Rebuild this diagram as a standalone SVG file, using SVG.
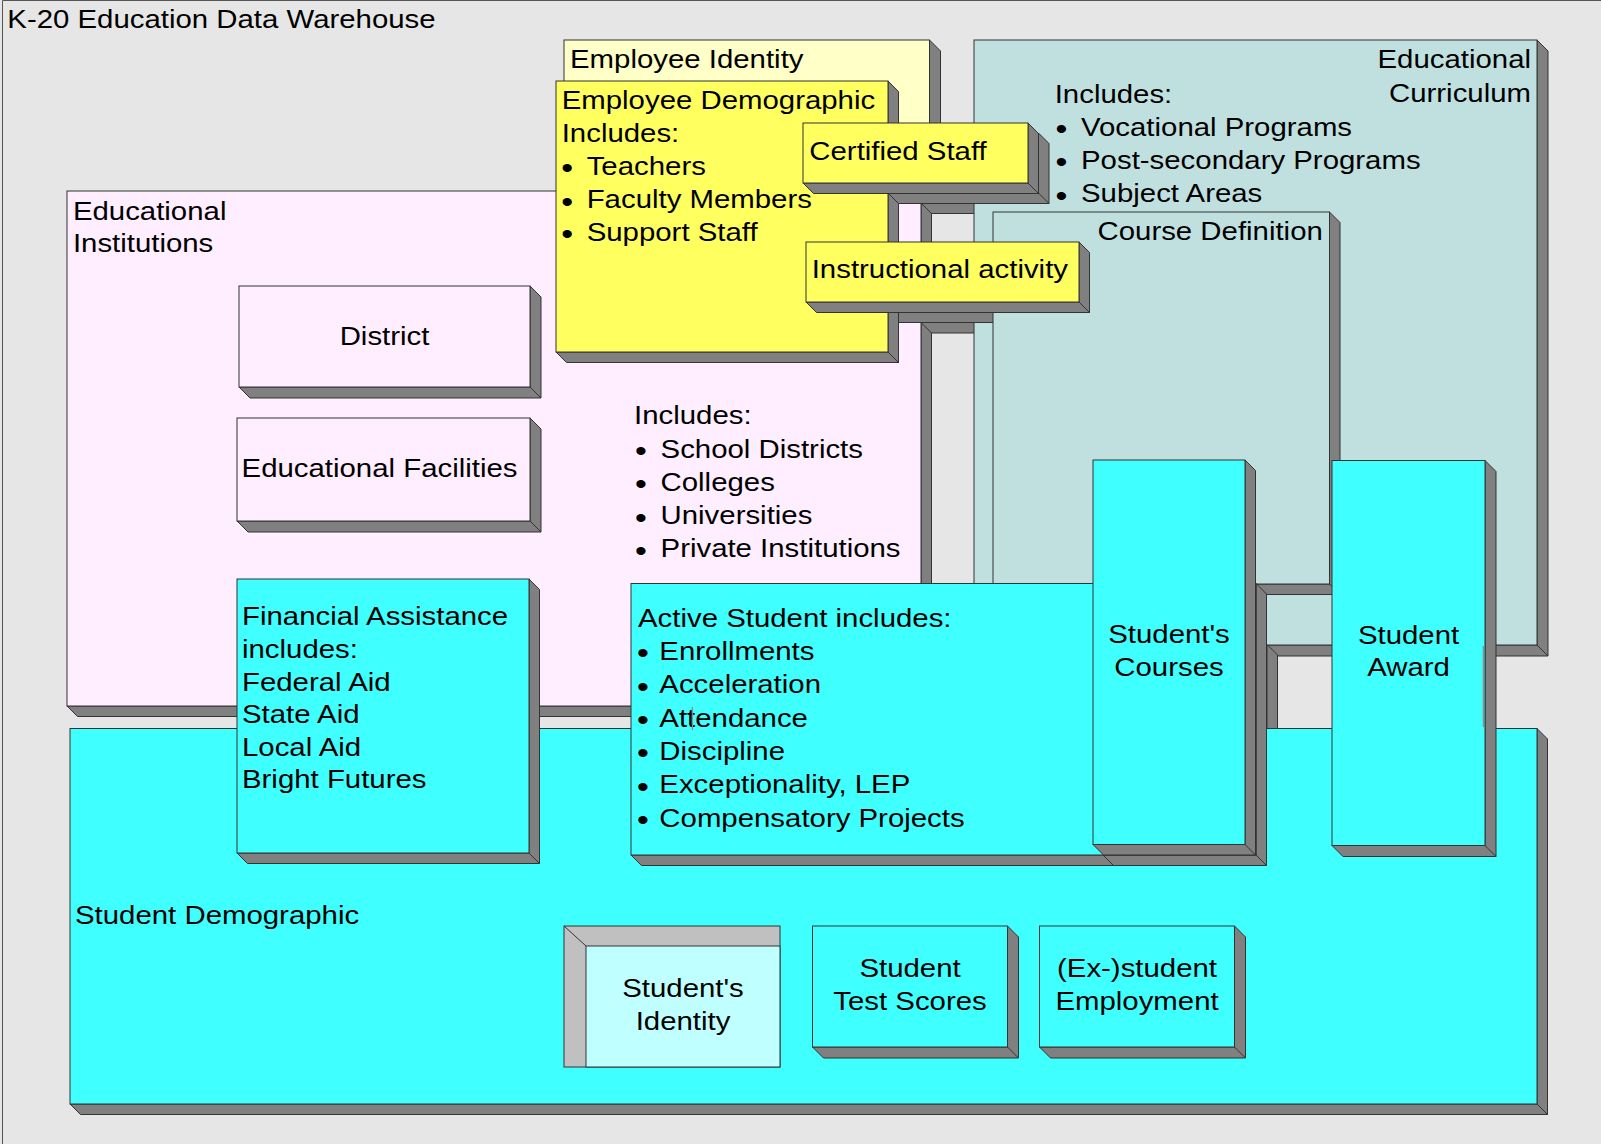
<svg xmlns="http://www.w3.org/2000/svg" width="1601" height="1144" viewBox="0 0 1601 1144">
<style>
.t{font-family:"Liberation Sans",Arial,Helvetica,sans-serif;font-size:26px;fill:#000}
.b{font-size:30px}
.m{text-anchor:middle}
.e{text-anchor:end}
.sh{fill:#808080;stroke:#333;stroke-width:1;stroke-linejoin:round}
.ln{stroke:#333;stroke-width:1;fill:none}
.f{stroke:#333;stroke-width:1}
.pink{fill:#FFEEFF}
.cyan{fill:#40FFFF}
.yel{fill:#FFFF60}
.pyel{fill:#FFFFC8}
.blue{fill:#C0E0E0}
.art{stroke:#8a8a8a;stroke-width:1.2;fill:none}
</style>
<rect x="0" y="0" width="1601" height="1144" fill="#E6E6E6"/>
<path d="M2.5,1144 V0.5 H1601" fill="none" stroke="#555" stroke-width="1"/>
<text class="t" transform="translate(7.3,28.3) scale(1.13,1)">K-20 Education Data Warehouse</text>

<g id="employee-identity">
<polygon class="sh" points="929.5,40 940.5,51 940.5,204 575,204 564,193 929.5,193"/>
<rect class="f pyel" x="564" y="40" width="365.5" height="153"/>
<text class="t" transform="translate(570,68.3) scale(1.13,1)">Employee Identity</text>
</g>

<g id="educational-institutions">
<polygon class="sh" points="921,191 931.5,201.5 931.5,716.5 77.5,716.5 67,706 921,706"/>
<line class="ln" x1="921" y1="706" x2="931.5" y2="716.5"/>
<rect class="f pink" x="67" y="191" width="854" height="515"/>
<text class="t" transform="translate(72.9,0) scale(1.13,1)"><tspan x="0" y="220">Educational</tspan><tspan x="0" y="252.3">Institutions</tspan></text>
<text class="t" transform="translate(634,0) scale(1.13,1)">
<tspan x="0" y="424.5">Includes:</tspan>
<tspan class="b" x="0.95" y="461.2">•</tspan><tspan x="23.5" y="457.7">School Districts</tspan>
<tspan class="b" x="0.95" y="494.4">•</tspan><tspan x="23.5" y="490.9">Colleges</tspan>
<tspan class="b" x="0.95" y="527.6">•</tspan><tspan x="23.5" y="524.1">Universities</tspan>
<tspan class="b" x="0.95" y="560.8">•</tspan><tspan x="23.5" y="557.3">Private Institutions</tspan>
</text>
</g>

<g id="district">
<polygon class="sh" points="530,286 541,297 541,398 250,398 239,387 530,387"/>
<line class="ln" x1="530" y1="387" x2="541" y2="398"/>
<rect class="f pink" x="239" y="286" width="291" height="101"/>
<text class="t m" transform="translate(384.5,345) scale(1.13,1)">District</text>
</g>

<g id="educational-facilities">
<polygon class="sh" points="530,418 541,429 541,532 248,532 237,521 530,521"/>
<line class="ln" x1="530" y1="521" x2="541" y2="532"/>
<rect class="f pink" x="237" y="418" width="293" height="103"/>
<text class="t m" transform="translate(379.5,477) scale(1.13,1)">Educational Facilities</text>
</g>

<g id="connectors">
<polygon class="sh" points="921,203 985,203 985,213.5 931.5,213.5"/>
<polygon class="sh" points="921,322.5 985,322.5 985,333 931.5,333"/>
</g>

<g id="educational-curriculum">
<polygon class="sh" points="1537,40 1548,51 1548,656 985,656 974,645 1537,645"/>
<line class="ln" x1="1537" y1="645" x2="1548" y2="656"/>
<rect class="f blue" x="974" y="40" width="563" height="605"/>
<text class="t e" transform="translate(1531,0) scale(1.13,1)"><tspan x="0" y="68.3">Educational</tspan><tspan x="0" y="101.7">Curriculum</tspan></text>
<text class="t" transform="translate(1054.7,0) scale(1.13,1)">
<tspan x="0" y="102.7">Includes:</tspan>
<tspan class="b" x="0.68" y="139.5">•</tspan><tspan x="23.3" y="136">Vocational Programs</tspan>
<tspan class="b" x="0.68" y="172.5">•</tspan><tspan x="23.3" y="169">Post-secondary Programs</tspan>
<tspan class="b" x="0.68" y="206">•</tspan><tspan x="23.3" y="202.5">Subject Areas</tspan>
</text>
</g>

<g id="connectors-2">
<polygon class="sh" points="1267,644.5 1277.5,655 1277.5,740 1267,740"/>
<polygon class="sh" points="888,312 1000,312 1000,322.5 898.5,322.5"/>
</g>

<g id="course-definition">
<polygon class="sh" points="1329.5,212 1340,222.5 1340,594.5 1003.5,594.5 993,584 1329.5,584"/>
<line class="ln" x1="1329.5" y1="584" x2="1340" y2="594.5"/>
<rect class="f blue" x="993" y="212" width="336.5" height="372"/>
<text class="t e" transform="translate(1322.8,240) scale(1.13,1)">Course Definition</text>
</g>

<g id="employee-demographic">
<polygon class="sh" points="888,81 898.5,91.5 898.5,362.5 566.5,362.5 556,352 888,352"/>
<line class="ln" x1="888" y1="352" x2="898.5" y2="362.5"/>
<rect class="f yel" x="556" y="81" width="332" height="271"/>
<text class="t" transform="translate(561.7,0) scale(1.13,1)">
<tspan x="0" y="109.3">Employee Demographic</tspan>
<tspan x="0" y="141.7">Includes:</tspan>
<tspan class="b" x="-0.3" y="178.5">•</tspan><tspan x="22.1" y="175">Teachers</tspan>
<tspan class="b" x="-0.3" y="211.8">•</tspan><tspan x="22.1" y="208.3">Faculty Members</tspan>
<tspan class="b" x="-0.3" y="244.2">•</tspan><tspan x="22.1" y="240.7">Support Staff</tspan>
</text>
</g>

<g id="connectors-3">
<polygon class="sh" points="1038.5,133 1049,143.5 1049,203.5 898.5,203.5 888,193 1038.5,193"/>
<line class="ln" x1="1038.5" y1="193" x2="1049" y2="203.5"/>
</g>

<g id="certified-staff">
<polygon class="sh" points="1028,123 1038.5,133.5 1038.5,193.5 813.5,193.5 803,183 1028,183"/>
<line class="ln" x1="1028" y1="183" x2="1038.5" y2="193.5"/>
<rect class="f yel" x="803" y="123" width="225" height="60"/>
<text class="t" transform="translate(809.3,160) scale(1.13,1)">Certified Staff</text>
</g>

<g id="instructional-activity">
<polygon class="sh" points="1079,242 1089.5,252.5 1089.5,312.5 816.5,312.5 806,302 1079,302"/>
<line class="ln" x1="1079" y1="302" x2="1089.5" y2="312.5"/>
<rect class="f yel" x="806" y="242" width="273" height="60"/>
<text class="t" transform="translate(811.7,278.3) scale(1.13,1)">Instructional activity</text>
</g>

<g id="student-demographic">
<polygon class="sh" points="1537,728.5 1547.5,739 1547.5,1114.5 80.5,1114.5 70,1104 1537,1104"/>
<line class="ln" x1="1537" y1="1104" x2="1547.5" y2="1114.5"/>
<rect class="f cyan" x="70" y="728.5" width="1467" height="375.5"/>
<text class="t" transform="translate(75,923.6) scale(1.13,1)">Student Demographic</text>
</g>

<g id="financial-assistance">
<polygon class="sh" points="529,579 539.5,589.5 539.5,863.5 247.5,863.5 237,853 529,853"/>
<line class="ln" x1="529" y1="853" x2="539.5" y2="863.5"/>
<rect class="f cyan" x="237" y="579" width="292" height="274"/>
<text class="t" transform="translate(242,0) scale(1.13,1)">
<tspan x="0" y="625.5">Financial Assistance</tspan>
<tspan x="0" y="658.1">includes:</tspan>
<tspan x="0" y="690.7">Federal Aid</tspan>
<tspan x="0" y="723.3">State Aid</tspan>
<tspan x="0" y="755.9">Local Aid</tspan>
<tspan x="0" y="788.5">Bright Futures</tspan>
</text>
</g>

<g id="active-student">
<polygon class="sh" points="1256,583.5 1266.5,594 1266.5,865.5 641.5,865.5 631,855 1256,855"/>
<line class="ln" x1="1256" y1="855" x2="1266.5" y2="865.5"/>
<line class="ln" x1="1103" y1="855" x2="1113.5" y2="865.5"/>
<rect class="f cyan" x="631" y="583.5" width="625" height="271.5"/>
<text class="t" transform="translate(638,0) scale(1.13,1)">
<tspan x="0" y="626.7">Active Student includes:</tspan>
<tspan class="b" x="-0.8" y="663.5">•</tspan><tspan x="18.9" y="660">Enrollments</tspan>
<tspan class="b" x="-0.8" y="696.8">•</tspan><tspan x="18.9" y="693.3">Acceleration</tspan>
<tspan class="b" x="-0.8" y="730.2">•</tspan><tspan x="18.9" y="726.7">Attendance</tspan>
<tspan class="b" x="-0.8" y="763.5">•</tspan><tspan x="18.9" y="760">Discipline</tspan>
<tspan class="b" x="-0.8" y="796.8">•</tspan><tspan x="18.9" y="793.3">Exceptionality, LEP</tspan>
<tspan class="b" x="-0.8" y="830.2">•</tspan><tspan x="18.9" y="826.7">Compensatory Projects</tspan>
</text>
<line class="art" x1="692.4" y1="707" x2="692.4" y2="730"/>
</g>

<g id="students-courses">
<polygon class="sh" points="1245,460 1255.5,470.5 1255.5,855 1103.5,855 1093,844.5 1245,844.5"/>
<line class="ln" x1="1245" y1="844.5" x2="1255.5" y2="855"/>
<rect class="f cyan" x="1093" y="460" width="152" height="384.5"/>
<text class="t m" transform="translate(1169,0) scale(1.13,1)"><tspan x="0" y="643">Student's</tspan><tspan x="0" y="676">Courses</tspan></text>
</g>

<g id="student-award">
<polygon class="sh" points="1485,460.5 1496,471.5 1496,856.5 1343,856.5 1332,845.5 1485,845.5"/>
<line class="ln" x1="1485" y1="845.5" x2="1496" y2="856.5"/>
<rect class="f cyan" x="1332" y="460.5" width="153" height="385"/>
<text class="t m" transform="translate(1408.5,0) scale(1.13,1)"><tspan x="0" y="644">Student</tspan><tspan x="0" y="676">Award</tspan></text>
<line class="art" x1="1483.3" y1="646" x2="1483.3" y2="727"/>
</g>

<g id="students-identity">
<rect class="f" fill="#C0C0C0" x="564" y="926" width="216" height="141"/>
<rect class="f" fill="#C0FFFF" x="586" y="946" width="194" height="121"/>
<line class="ln" x1="564" y1="926" x2="586" y2="946"/>
<text class="t m" transform="translate(683,0) scale(1.13,1)"><tspan x="0" y="997.3">Student's</tspan><tspan x="0" y="1030">Identity</tspan></text>
</g>

<g id="student-test-scores">
<polygon class="sh" points="1007.5,926 1018.5,937 1018.5,1058 823.5,1058 812.5,1047 1007.5,1047"/>
<line class="ln" x1="1007.5" y1="1047" x2="1018.5" y2="1058"/>
<rect class="f cyan" x="812.5" y="926" width="195" height="121"/>
<text class="t m" transform="translate(910,0) scale(1.13,1)"><tspan x="0" y="977.3">Student</tspan><tspan x="0" y="1010">Test Scores</tspan></text>
</g>

<g id="ex-student-employment">
<polygon class="sh" points="1234.5,926 1245.5,937 1245.5,1058 1050.5,1058 1039.5,1047 1234.5,1047"/>
<line class="ln" x1="1234.5" y1="1047" x2="1245.5" y2="1058"/>
<rect class="f cyan" x="1039.5" y="926" width="195" height="121"/>
<text class="t m" transform="translate(1137,0) scale(1.13,1)"><tspan x="0" y="977">(Ex-)student</tspan><tspan x="0" y="1010">Employment</tspan></text>
</g>
</svg>
